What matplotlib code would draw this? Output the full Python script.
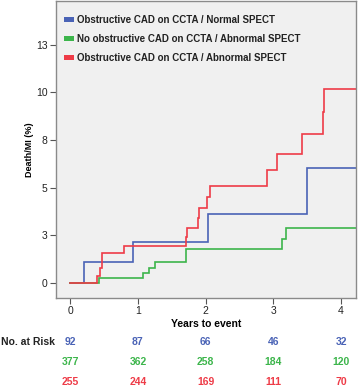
import matplotlib
matplotlib.use("Agg")
import matplotlib.pyplot as plt
from matplotlib.patches import Patch
import matplotlib.transforms as mtransforms

plt.rcParams['font.family'] = ['Liberation Sans', 'DejaVu Sans']

# ---- data ----
series_names = ["Obstructive CAD on CCTA / Normal SPECT",
                "No obstructive CAD on CCTA / Abnormal SPECT",
                "Obstructive CAD on CCTA / Abnormal SPECT"]
colors = ["#4a63b6", "#3cb54b", "#ee3b47"]

blue_t = [0, 0.21, 0.93, 2.04, 3.49, 4.3]
blue_v = [0, 1.09, 2.17, 3.64, 6.02, 6.02]

green_t = [0, 0.42, 1.08, 1.16, 1.25, 1.71, 3.12, 3.18, 4.3]
green_v = [0, 0.27, 0.53, 0.80, 1.12, 1.77, 2.31, 2.87, 2.87]

red_t = [0, 0.39, 0.44, 0.47, 0.79, 1.71, 1.73, 1.88, 1.90, 2.02, 2.06,
         2.91, 3.05, 3.42, 3.74, 3.75, 4.3]
red_v = [0, 0.35, 0.78, 1.56, 1.96, 2.43, 2.90, 3.40, 3.96, 4.53, 5.09,
         5.93, 6.78, 7.83, 8.96, 10.17, 10.17]

x_ticks = [0, 1, 2, 3, 4]
y_ticks = [0, 2.5, 5, 7.5, 10, 12.5]
y_tick_labels = ["0", "3", "5", "8", "10", "13"]

risk_blue = [92, 87, 66, 46, 32]
risk_green = [377, 362, 258, 184, 120]
risk_red = [255, 244, 169, 111, 70]

# ---- figure ----
W, H = 359, 387
fig = plt.figure(figsize=(W / 100, H / 100), dpi=100)
ax = fig.add_axes([56 / W, 1 - 298 / H, 300 / W, 297 / H])
ax.set_facecolor("#f0f0f0")

for t, v, c in zip([blue_t, green_t, red_t], [blue_v, green_v, red_v], colors):
    ax.plot(t, v, drawstyle="steps-post", color=c, lw=1.2, solid_joinstyle="miter")

ax.set_xlim(-0.21, 4.22)
ax.set_ylim(-0.79, 14.8)
ax.set_xticks(x_ticks)
ax.set_xticklabels([str(x) for x in x_ticks])
ax.set_yticks(y_ticks)
ax.set_yticklabels(y_tick_labels)
ax.tick_params(axis="both", labelsize=7.5, colors="#555555", labelcolor="#222222",
               length=4, width=0.8, pad=2)
for s in ax.spines.values():
    s.set_color("#8a8a8a")
    s.set_linewidth(1.0)

ax.set_ylabel("Death/MI (%)", fontsize=6.5, fontweight="bold")
ax.yaxis.set_label_coords(-0.072, 0.5)
fig.text(206 / W, 1 - 324 / H, "Years to event", fontsize=7.5, fontweight="bold",
         ha="center", va="center")

handles = [Patch(facecolor=c, edgecolor="none") for c in colors]
leg = ax.legend(handles, series_names, loc="upper left", frameon=False,
                fontsize=7, handlelength=1.0, handleheight=0.45,
                handletextpad=0.3, labelspacing=0.92,
                bbox_to_anchor=(0.005, 0.975), borderaxespad=0.3)
for txt in leg.get_texts():
    txt.set_fontweight("bold")
    txt.set_color("#222222")

# risk table
trans = mtransforms.blended_transform_factory(ax.transData, fig.transFigure)
row_y = [1 - 342 / H, 1 - 362 / H, 1 - 382 / H]
fig.text(1 / W, row_y[0], "No. at Risk", fontsize=7.5, fontweight="bold",
         ha="left", va="center", color="#222222")
for vals, c, y in zip([risk_blue, risk_green, risk_red], colors, row_y):
    for x, v in zip(x_ticks, vals):
        fig.text(x, y, str(v), transform=trans, fontsize=7.5, fontweight="bold",
                 color=c, ha="center", va="center")

fig.savefig("out.png", dpi=100)
